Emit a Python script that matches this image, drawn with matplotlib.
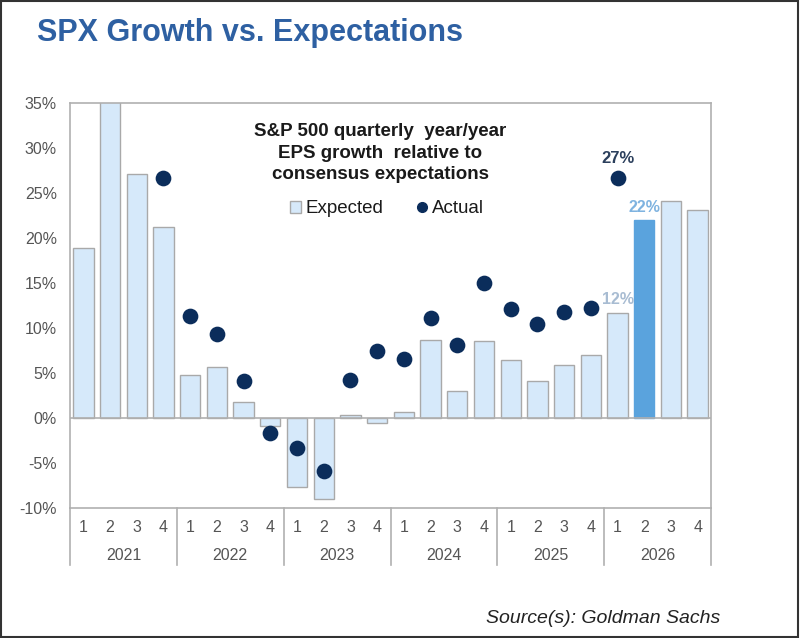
import matplotlib
matplotlib.use("Agg")
import matplotlib.pyplot as plt
from matplotlib.patches import Patch, Rectangle
from matplotlib.lines import Line2D
import matplotlib.transforms as mtransforms
import numpy as np

plt.rcParams['font.family'] = ['Liberation Sans', 'DejaVu Sans']

years = ["2021", "2022", "2023", "2024", "2025", "2026"]
quarters = ["1", "2", "3", "4"]
expected = [18.9, 38.0, 27.1, 21.2,
            4.8, 5.7, 1.8, -0.8,
            -7.6, -9.0, 0.4, -0.5,
            0.7, 8.7, 3.0, 8.6,
            6.5, 4.1, 5.9, 7.0,
            11.7, 22.0, 24.1, 23.1]
actual = [None, None, None, 26.7,
          11.4, 9.4, 4.1, -1.6,
          -3.3, -5.9, 4.3, 7.5,
          6.6, 11.2, 8.1, 15.0,
          12.2, 10.5, 11.8, 12.3,
          26.7, None, None, None]
highlight_index = 21
label_27 = "27%"
label_22 = "22%"
label_12 = "12%"

light = "#d6e9fa"
edge = "#a9a9a9"
navy = "#0b2d5b"
hi = "#5aa3dd"
grey_txt = "#555555"
axis_col = "#b0b0b0"

fig = plt.figure(figsize=(8.0, 6.38), dpi=100)
W, H = 800, 638
L, R, T, B = 70, 711, 103.3, 508.3
ax = fig.add_axes([L / W, 1 - B / H, (R - L) / W, (B - T) / H])

n = len(expected)
x = np.arange(n)
colors = [hi if i == highlight_index else light for i in range(n)]
edges = [hi if i == highlight_index else edge for i in range(n)]
ax.bar(x, expected, width=0.76, color=colors, edgecolor=edges, linewidth=1.0, zorder=2)

ax_x = [i for i in range(n) if actual[i] is not None]
ax_y = [actual[i] for i in ax_x]
ax.scatter(ax_x, ax_y, s=128, color=navy, zorder=4, linewidths=0)

ax.set_xlim(-0.5, n - 0.5)
ax.set_ylim(-10, 35)
ax.axhline(0, color=axis_col, lw=1.2, zorder=3)
for s in ax.spines.values():
    s.set_color(axis_col)
    s.set_linewidth(1.2)

yt = np.arange(-10, 36, 5)
ax.set_yticks(yt)
ax.set_yticklabels([f"{v}%" if v >= 0 else f"-{abs(v)}%" for v in yt],
                   color=grey_txt, fontsize=11.5)
ax.tick_params(axis='y', length=0, pad=9.5)
ax.set_xticks([])

trans = mtransforms.blended_transform_factory(ax.transData, ax.transAxes)
bottom_ext = -(565 - B) / (B - T)
for i in range(n):
    ax.text(x[i], -(528 - B) / (B - T), quarters[i % 4], transform=trans,
            ha='center', va='center', color=grey_txt, fontsize=11.5)
for k, yr in enumerate(years):
    ax.text(4 * k + 1.5, -(555 - B) / (B - T), yr, transform=trans,
            ha='center', va='center', color=grey_txt, fontsize=11.5)
for k in range(len(years) + 1):
    ax.plot([4 * k - 0.5, 4 * k - 0.5], [0, bottom_ext], transform=trans,
            color=axis_col, lw=1.2, clip_on=False)

# inner title
ax.text((380 - L) / (R - L), (B - 153) / (B - T),
        "S&P 500 quarterly  year/year\nEPS growth  relative to\nconsensus expectations",
        transform=ax.transAxes, ha='center', va='center', fontsize=13.5,
        fontweight='bold', color="#1a1a1a", linespacing=1.33, zorder=5)

handles = [Patch(facecolor=light, edgecolor=edge, label="Expected"),
           Line2D([], [], marker='o', color='none', markerfacecolor=navy,
                  markeredgecolor=navy, markersize=7, label="Actual")]
leg = ax.legend(handles=handles, loc='center', ncol=2, frameon=False,
                bbox_to_anchor=((387 - L) / (R - L), (B - 209) / (B - T)),
                fontsize=13.5, handlelength=0.55, handleheight=0.55,
                handletextpad=0.25, columnspacing=1.8, borderpad=0)
for t in leg.get_texts():
    t.set_color("#1a1a1a")

# value labels
ax.text(20, actual[20] + 2.2, label_27, ha='center', va='center',
        fontsize=12, fontweight='bold', color="#2b3f5c", zorder=5)
ax.text(21, expected[21] + 1.45, label_22, ha='center', va='center',
        fontsize=11.5, fontweight='bold', color="#7fb3e0", zorder=5)
ax.text(20, expected[20] + 1.45, label_12, ha='center', va='center',
        fontsize=11.5, fontweight='bold', color="#a8bcd2", zorder=5)

fig.text(37 / W, 1 - 41 / H, "SPX Growth vs. Expectations", ha='left', va='baseline',
         fontsize=22, fontweight='bold', color="#2e60a2")
fig.text(720 / W, 1 - 623 / H, "Source(s): Goldman Sachs", ha='right', va='baseline',
         fontsize=14, style='italic', color="#222222")

fig.patches.append(Rectangle((0.001, 0.002), 0.997, 0.996, transform=fig.transFigure,
                             fill=False, edgecolor="#333333", linewidth=1.5))

fig.savefig("out.png", dpi=100)
